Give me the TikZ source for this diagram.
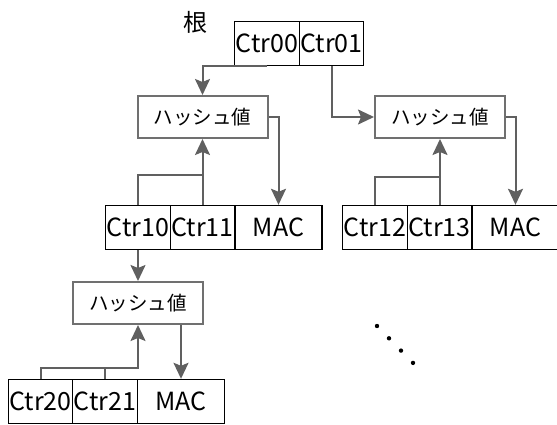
\documentclass[tikz,border=0pt]{standalone}
\usepackage{fontspec}
\setmainfont{Noto Sans CJK JP}
\usetikzlibrary{arrows.meta}
\definecolor{linkgray}{HTML}{606060}
\definecolor{boxgray}{HTML}{707070}

\begin{document}
\begin{tikzpicture}
  [x=1pt,y=1pt,
   ctr/.style={draw,line width=1.4pt,inner sep=0pt,minimum width=64.5pt,
     minimum height=44pt,font=\fontsize{25}{25}\selectfont},
   mac/.style={ctr,minimum width=87pt},
   hash/.style={draw=boxgray,line width=2pt,inner sep=0pt,minimum width=130pt,
     minimum height=42pt,font=\fontsize{19.5}{20}\selectfont},
   link/.style={draw=linkgray,line width=2pt,
     -{Stealth[length=16pt,width=15pt,inset=3pt]}},
   feed/.style={draw=linkgray,line width=2pt}]
  \useasboundingbox (0,0) rectangle (557,-425);

  \node[font=\fontsize{24}{24}\selectfont] (rootlbl) at (195,-22) {根};
  \node[ctr] (c00) at (267,-43.5) {Ctr00};
  \node[ctr] (c01) at (331.5,-43.5) {Ctr01};

  \node[hash] (hash1) at (202.5,-117) {ハッシュ値};
  \node[hash] (hash2) at (440,-117) {ハッシュ値};

  \node[ctr] (c10) at (138,-227.5) {Ctr10};
  \node[ctr] (c11) at (202.5,-227.5) {Ctr11};
  \node[mac] (mac1) at (278.5,-227.5) {MAC};

  \node[ctr] (c12) at (375,-227.5) {Ctr12};
  \node[ctr] (c13) at (439.5,-227.5) {Ctr13};
  \node[mac] (mac2) at (515.5,-227.5) {MAC};

  \node[hash] (hash3) at (138,-303) {ハッシュ値};

  \node[ctr] (c20) at (40.5,-401.5) {Ctr20};
  \node[ctr] (c21) at (105,-401.5) {Ctr21};
  \node[mac] (mac3) at (181,-401.5) {MAC};

  % down from the counters, into the hashes
  \draw[link] (c00.south) -| (hash1.north);
  \draw[link] (c01.south) |- (hash2.west);
  \draw[link] (c10.south) -- (hash3.north);

  % hash -> MAC
  \draw[link] (hash1.east) -| (mac1.north);
  \draw[link] (hash2.east) -| (mac2.north);
  \draw[link] (mac3.north |- hash3.south) -- (mac3.north);

  % counters feeding each hash
  \draw[link] (c10.north) -- ++(0,30) -| (hash1.south);
  \draw[feed] (c11.north) -- ++(0,30);
  \draw[link] (c12.north) -- ++(0,28) -| (hash2.south);
  \draw[feed] (c13.north) -- ++(0,28);
  \draw[link] (c20.north) -- ++(0,11) -| (hash3.south);
  \draw[feed] (c21.north) -- ++(0,11);

  \foreach \i in {0,...,3}
    \fill (377+12*\i,-326-12.3*\i) circle (2.2);
\end{tikzpicture}
\end{document}
